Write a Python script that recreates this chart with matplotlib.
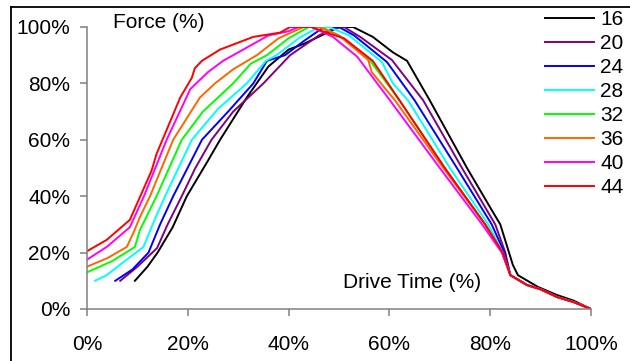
import matplotlib
matplotlib.use("Agg")
import matplotlib.pyplot as plt
from matplotlib.lines import Line2D
from matplotlib.ticker import PercentFormatter

plt.rcParams['font.family'] = ['Liberation Sans', 'DejaVu Sans']

labels = ["16", "20", "24", "28", "32", "36", "40", "44"]
colors = ["#000000", "#800080", "#0000FF", "#00FFFF", "#00FF00", "#FF6600", "#FF00FF", "#FF0000"]

# drive time (%) / force (%)
x16 = [9.5, 12, 14, 17, 19.8, 23.8, 26.4, 31.7, 36, 40, 43, 46.5, 50, 52.8, 56.7, 60.7, 63.5, 68, 75.4, 80, 82, 84.5, 85.5, 89.5, 93.2, 96.5, 100]
y16 = [10, 15, 20, 29, 40, 52, 60, 75, 86, 92, 94, 97, 100, 100, 96.5, 91, 88, 74, 50, 36, 30, 15.6, 12, 7.8, 5, 3, 0]

x20 = [6.6, 10, 13.9, 16, 18.8, 21.5, 24.7, 29, 35, 40.3, 46, 49, 51, 54.2, 60.5, 66.7, 74.4, 81, 83, 84, 87.3, 90, 93.2, 96.5, 100]
y20 = [10, 15, 21.6, 30, 40, 50, 60, 70, 80, 90, 97, 99.5, 100, 96.5, 88.3, 74, 50, 30, 20, 12, 8.5, 7, 4.3, 2.5, 0]

x24 = [5.6, 9, 12.2, 14.5, 17.1, 22.8, 28, 33, 35.7, 39.3, 43, 47, 50, 53, 59.5, 65, 73.4, 80.3, 82.8, 84, 87.3, 90, 93.2, 96.5, 100]
y24 = [10, 14, 20, 30, 40, 60, 70, 80, 88, 90, 95, 100, 100, 97, 87.6, 74, 50, 30, 20, 12, 8.5, 7, 4.3, 2.5, 0]

x28 = [1.6, 3.9, 7.5, 11.2, 13.5, 15.5, 20.8, 26, 31.7, 35.5, 37.6, 42, 46, 48, 52, 58.5, 60.7, 63.7, 72, 79.6, 82.5, 84, 87.3, 90, 93.2, 96.5, 100]
y28 = [10, 12, 17, 22, 32, 40, 60, 71, 80, 88, 90, 96, 100, 100, 97, 87.6, 80, 74, 50, 30, 20, 12, 8.5, 7, 4.3, 2.5, 0]

x32 = [0, 5, 9.5, 10.5, 13.8, 18.8, 23, 29, 32.5, 35.7, 40, 44, 46.5, 50, 56.2, 62, 71, 79, 82.4, 84, 87.3, 90, 93.2, 96.5, 100]
y32 = [13, 17, 22, 28, 40, 60, 70, 80, 87, 90, 96, 100, 100, 97, 88, 74, 50, 30, 20, 12, 8.5, 7, 4.3, 2.5, 0]

x36 = [0, 4, 7.9, 9.2, 10.5, 12.5, 17.1, 22.4, 25.4, 29, 33.7, 38, 43, 46, 50, 55.8, 56.5, 61.1, 70.7, 79, 82.4, 84, 87.3, 90, 93.2, 96.5, 100]
y36 = [15, 18, 22, 27, 32.6, 40, 60, 75, 80, 85, 90, 96, 100, 100, 97, 88.3, 84, 74, 50, 30, 20, 12, 8.5, 7, 4.3, 2.5, 0]

x40 = [0, 3.9, 8.5, 11.3, 15.8, 20.5, 24, 27, 32, 36, 40, 42, 44.5, 48.8, 53.6, 60.1, 70, 78.4, 82.3, 84, 87.3, 90, 93.2, 96.5, 100]
y40 = [17.5, 22, 29, 40, 60, 78, 84, 88, 93, 97, 98.5, 100, 100, 96.5, 89.5, 74, 50, 30, 20, 12, 8.5, 7, 4.3, 2.5, 0]

x44 = [0, 3.9, 8.5, 12.8, 13.8, 18.5, 20.8, 21.4, 22.8, 26.4, 33, 38.3, 40.3, 44.5, 47.5, 51, 56.7, 62, 71, 79, 82.5, 84, 87.3, 90, 93.2, 96.5, 100]
y44 = [20.5, 24.5, 31.6, 49, 55, 75, 82, 85.4, 88, 92, 96.5, 98, 100, 100, 98, 96, 88, 74, 50, 30, 20, 12, 8.5, 7, 4.3, 2.5, 0]

xs = [x16, x20, x24, x28, x32, x36, x40, x44]
ys = [y16, y20, y24, y28, y32, y36, y40, y44]

fig = plt.figure(figsize=(6.3, 3.61), dpi=100)
ax = fig.add_axes([87/630, 1 - 309/361, 504/630, 282/361])

for x, y, c, lab in zip(xs, ys, colors, labels):
    ax.plot(x, y, color=c, lw=1.4, label=lab)

ax.set_xlim(0, 100)
ax.set_ylim(0, 100)
ax.set_xticks(range(0, 101, 20))
ax.set_yticks(range(0, 101, 20))
ax.xaxis.set_major_formatter(PercentFormatter(decimals=0))
ax.yaxis.set_major_formatter(PercentFormatter(decimals=0))
for s in ["top", "right"]:
    ax.spines[s].set_visible(False)
for s in ["left", "bottom"]:
    ax.spines[s].set_color("#808080")
    ax.spines[s].set_linewidth(1.1)
ax.tick_params(axis="both", colors="#808080", labelcolor="black", labelsize=15, length=5, width=1.1, direction="out")
ax.tick_params(axis="x", pad=14)
ax.tick_params(axis="y", pad=7)

fig.text(113/630, 1 - 22/361, "Force (%)", fontsize=15, va="center", ha="left")
fig.text(343/630, 1 - 283/361, "Drive Time (%)", fontsize=15, va="center", ha="left")

fig.legend(loc="upper left", bbox_to_anchor=(545/630, 1 - 10/361), frameon=False, fontsize=15,
           handlelength=2.35, handletextpad=0.3, labelspacing=0.24, borderpad=0, borderaxespad=0)

# outer frame (left and top edges visible)
fig.add_artist(Line2D([11/630, 11/630], [0, 1 - 7/361], transform=fig.transFigure, color="black", lw=1.3))
fig.add_artist(Line2D([11/630, 1], [1 - 7/361, 1 - 7/361], transform=fig.transFigure, color="black", lw=1.3))

fig.savefig("out.png", dpi=100)
